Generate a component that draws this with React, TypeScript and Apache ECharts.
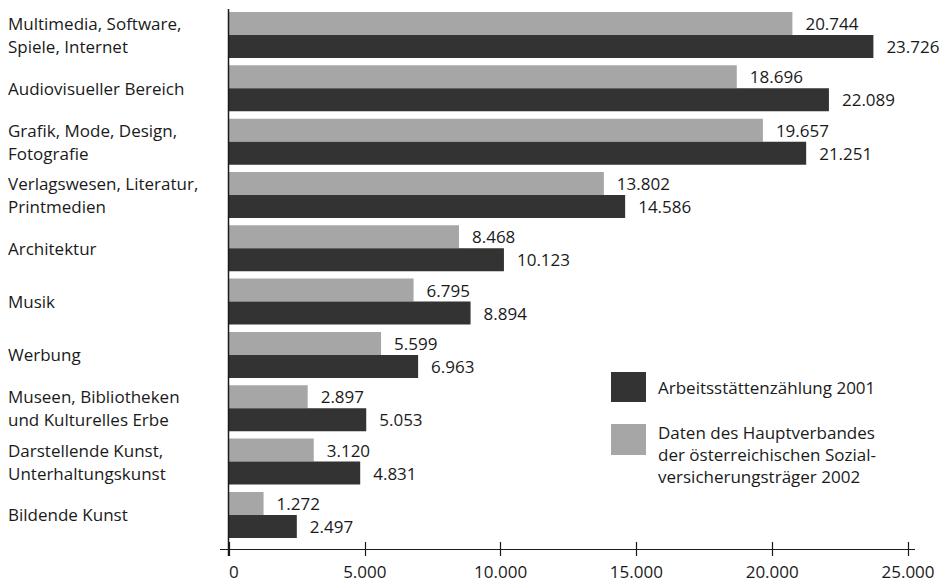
import React, { useEffect, useRef } from "react";
import * as echarts from "echarts";

const categories = [
  "Multimedia, Software,\nSpiele, Internet",
  "Audiovisueller Bereich",
  "Grafik, Mode, Design,\nFotografie",
  "Verlagswesen, Literatur,\nPrintmedien",
  "Architektur",
  "Musik",
  "Werbung",
  "Museen, Bibliotheken\nund Kulturelles Erbe",
  "Darstellende Kunst,\nUnterhaltungskunst",
  "Bildende Kunst",
];

// Daten des Hauptverbandes der österreichischen Sozialversicherungsträger 2002
const hauptverband2002 = [20744, 18696, 19657, 13802, 8468, 6795, 5599, 2897, 3120, 1272];
// Arbeitsstättenzählung 2001
const arbeitsstaetten2001 = [23726, 22089, 21251, 14586, 10123, 8894, 6963, 5053, 4831, 2497];

const axisTicks = [0, 5000, 10000, 15000, 20000, 25000];

const legendLabels = [
  "Arbeitsstättenzählung 2001",
  "Daten des Hauptverbandes\nder österreichischen Sozial-\nversicherungsträger 2002",
];

const DARK = "#333333";
const LIGHT = "#a6a6a6";
const TEXT = "#1a1a1a";
const FONT = "Open Sans";

// German thousands separator: 23726 -> "23.726"
function fmt(v: number): string {
  const s = String(Math.round(v));
  return s.replace(/\B(?=(\d{3})+(?!\d))/g, ".");
}

export default function App() {
  const ref = useRef<HTMLDivElement>(null);

  useEffect(() => {
    if (!ref.current) return;
    const chart = echarts.init(ref.current, undefined, { renderer: "svg" });

    const labelStyle = {
      show: true,
      position: "right" as const,
      distance: 13,
      color: TEXT,
      fontFamily: FONT,
      fontSize: 17,
      formatter: (p: any) => fmt(p.value),
    };

    const xMin = axisTicks[0];
    const xMax = axisTicks[axisTicks.length - 1];
    const step = axisTicks[1] - axisTicks[0];

    chart.setOption({
      animation: false,
      backgroundColor: "#ffffff",
      grid: { left: 229, right: 39, top: 8.3, bottom: 42.4, containLabel: false },
      xAxis: [
        {
          type: "value",
          min: xMin,
          max: xMax,
          interval: step,
          offset: 7.4,
          axisLine: { show: false },
          axisTick: { show: true, length: 7, lineStyle: { color: TEXT, width: 1.2 } },
          splitLine: { show: false },
          axisLabel: {
            color: TEXT,
            fontFamily: FONT,
            fontSize: 17,
            lineHeight: 17,
            margin: 14,
            alignMinLabel: "left",
            formatter: (v: number) => fmt(v),
          },
        },
        {
          type: "value",
          position: "bottom",
          min: xMin,
          max: xMax,
          interval: step,
          offset: 7.4,
          axisLine: { show: false },
          axisTick: { show: true, inside: true, length: 7, lineStyle: { color: TEXT, width: 1.2 } },
          splitLine: { show: false },
          axisLabel: { show: false },
        },
      ],
      yAxis: {
        type: "category",
        data: categories,
        inverse: true,
        axisLine: { show: false },
        axisTick: { show: false },
        axisLabel: {
          align: "left",
          margin: 221,
          color: TEXT,
          fontFamily: FONT,
          fontSize: 17,
          lineHeight: 23,
        },
      },
      series: [
        {
          name: "Daten des Hauptverbandes der österreichischen Sozialversicherungsträger 2002",
          type: "bar",
          data: hauptverband2002,
          barWidth: 23,
          barGap: "0%",
          itemStyle: { color: LIGHT },
          label: labelStyle,
        },
        {
          name: "Arbeitsstättenzählung 2001",
          type: "bar",
          data: arbeitsstaetten2001,
          barWidth: 23,
          barGap: "0%",
          itemStyle: { color: DARK },
          label: labelStyle,
        },
      ],
      graphic: [
        // axis lines, extended past the plot area
        {
          type: "line",
          shape: { x1: 228.5, y1: 9, x2: 228.5, y2: 556 },
          style: { stroke: TEXT, lineWidth: 1.5 },
          z: 10,
        },
        {
          type: "line",
          shape: { x1: 220, y1: 549.5, x2: 915, y2: 549.5 },
          style: { stroke: TEXT, lineWidth: 1.2 },
          z: 10,
        },
        // legend
        { type: "rect", shape: { x: 611, y: 372, width: 35, height: 30 }, style: { fill: DARK } },
        {
          type: "text",
          x: 658,
          y: 387,
          style: {
            text: legendLabels[0],
            fill: TEXT,
            font: `17px "${FONT}"`,
            verticalAlign: "middle",
          },
        },
        { type: "rect", shape: { x: 611, y: 424, width: 35, height: 31 }, style: { fill: LIGHT } },
        {
          type: "text",
          x: 658,
          y: 421,
          style: {
            text: legendLabels[1],
            fill: TEXT,
            font: `17px "${FONT}"`,
            lineHeight: 22,
            verticalAlign: "top",
          },
        },
      ],
    });

    return () => chart.dispose();
  }, []);

  return (
    <div
      ref={ref}
      style={{ position: "fixed", left: 0, top: 0, width: 947, height: 584, background: "#fff" }}
    />
  );
}
